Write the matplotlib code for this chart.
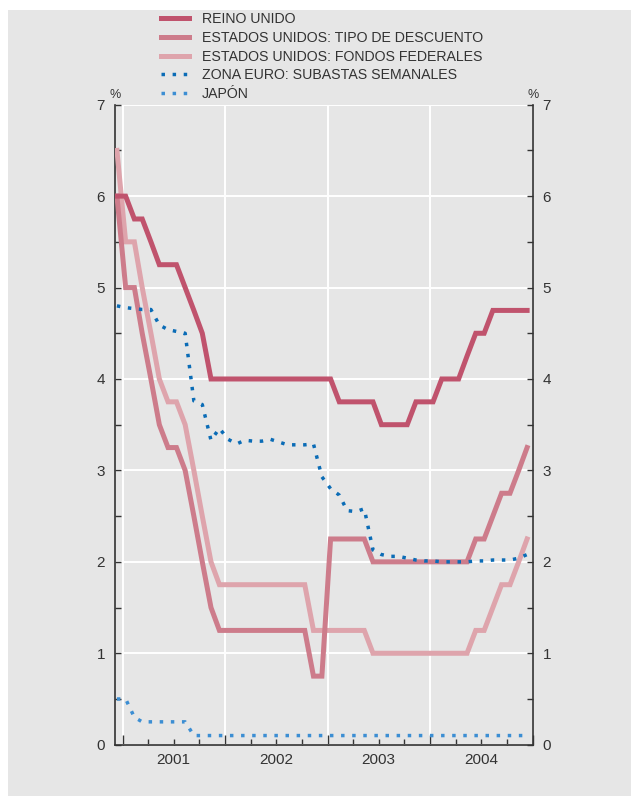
import matplotlib
matplotlib.use("Agg")
import matplotlib.pyplot as plt
import matplotlib.dates as mdates
from matplotlib.patches import Rectangle
import pandas as pd

plt.rcParams['font.family'] = ['Liberation Sans', 'DejaVu Sans']

# =============================================================================
# Datos: tipos de interés oficiales, datos mensuales dic-2000 a dic-2004 (%)
# =============================================================================

meses = pd.date_range("2000-12-01", "2004-12-01", freq="MS") + pd.Timedelta(days=10)

reino_unido = [
    6.00,
    6.00, 5.75, 5.75, 5.50, 5.25, 5.25, 5.25, 5.00, 4.75, 4.50, 4.00, 4.00,
    4.00, 4.00, 4.00, 4.00, 4.00, 4.00, 4.00, 4.00, 4.00, 4.00, 4.00, 4.00,
    4.00, 3.75, 3.75, 3.75, 3.75, 3.75, 3.50, 3.50, 3.50, 3.50, 3.75, 3.75,
    3.75, 4.00, 4.00, 4.00, 4.25, 4.50, 4.50, 4.75, 4.75, 4.75, 4.75, 4.75,
]

eeuu_descuento = [
    6.00,
    5.00, 5.00, 4.50, 4.00, 3.50, 3.25, 3.25, 3.00, 2.50, 2.00, 1.50, 1.25,
    1.25, 1.25, 1.25, 1.25, 1.25, 1.25, 1.25, 1.25, 1.25, 1.25, 0.75, 0.75,
    2.25, 2.25, 2.25, 2.25, 2.25, 2.00, 2.00, 2.00, 2.00, 2.00, 2.00, 2.00,
    2.00, 2.00, 2.00, 2.00, 2.00, 2.25, 2.25, 2.50, 2.75, 2.75, 3.00, 3.25,
]

eeuu_fondos = [
    6.50,
    5.50, 5.50, 5.00, 4.50, 4.00, 3.75, 3.75, 3.50, 3.00, 2.50, 2.00, 1.75,
    1.75, 1.75, 1.75, 1.75, 1.75, 1.75, 1.75, 1.75, 1.75, 1.75, 1.25, 1.25,
    1.25, 1.25, 1.25, 1.25, 1.25, 1.00, 1.00, 1.00, 1.00, 1.00, 1.00, 1.00,
    1.00, 1.00, 1.00, 1.00, 1.00, 1.25, 1.25, 1.50, 1.75, 1.75, 2.00, 2.25,
]

zona_euro = [
    4.80,
    4.78, 4.77, 4.76, 4.76, 4.59, 4.54, 4.52, 4.50, 3.76, 3.72, 3.33, 3.46,
    3.34, 3.29, 3.33, 3.32, 3.32, 3.34, 3.31, 3.28, 3.28, 3.28, 3.29, 2.93,
    2.80, 2.73, 2.56, 2.55, 2.58, 2.13, 2.08, 2.06, 2.06, 2.04, 2.02, 2.01,
    2.01, 2.00, 2.00, 2.00, 2.00, 2.01, 2.01, 2.02, 2.02, 2.02, 2.04, 2.08,
]

japon = [
    0.50,
    0.50, 0.30, 0.25, 0.25, 0.25, 0.25, 0.25, 0.25, 0.10, 0.10, 0.10, 0.10,
    0.10, 0.10, 0.10, 0.10, 0.10, 0.10, 0.10, 0.10, 0.10, 0.10, 0.10, 0.10,
    0.10, 0.10, 0.10, 0.10, 0.10, 0.10, 0.10, 0.10, 0.10, 0.10, 0.10, 0.10,
    0.10, 0.10, 0.10, 0.10, 0.10, 0.10, 0.10, 0.10, 0.10, 0.10, 0.10, 0.10,
]

anios = [2001, 2002, 2003, 2004]
y_ticks = [0, 1, 2, 3, 4, 5, 6, 7]

# =============================================================================
# Estilo
# =============================================================================

GRIS = '#e6e6e6'
TEXTO = '#333333'
C_UK = '#c0536d'
C_DESC = '#cd7c8b'
C_FED = '#dea4ac'
C_EURO = '#0b6cb6'
C_JAP = '#3c8ed3'
PUNTOS = (0, (1, 2.2))

fig = plt.figure(figsize=(6.31, 7.96), dpi=100)
fig.patch.set_facecolor('white')
fig.patches.append(Rectangle((8 / 631, 0), 1, 1 - 10 / 796, transform=fig.transFigure,
                             facecolor=GRIS, edgecolor='none', zorder=-10))

ax = fig.add_axes([114.7 / 631, 51.3 / 796, (533 - 114.7) / 631, (744.7 - 104.7) / 796])
ax.set_facecolor(GRIS)

# orden: fondos abajo, euro arriba
l_fed, = ax.plot(meses, eeuu_fondos, color=C_FED, lw=3.6, solid_joinstyle='miter', zorder=3)
l_desc, = ax.plot(meses, eeuu_descuento, color=C_DESC, lw=3.6, solid_joinstyle='miter', zorder=4)
l_uk, = ax.plot(meses, reino_unido, color=C_UK, lw=3.6, solid_joinstyle='miter', zorder=5)
l_jap, = ax.plot(meses, japon, color=C_JAP, lw=2.5, ls=PUNTOS, dash_capstyle='butt', zorder=6)
l_euro, = ax.plot(meses, zona_euro, color=C_EURO, lw=2.5, ls=PUNTOS, dash_capstyle='butt', zorder=7)

# ejes
ax.set_ylim(0, 7)
ax.set_xlim(pd.Timestamp("2000-12-03"), pd.Timestamp("2005-01-01"))

ax.set_yticks(y_ticks)
ax.set_yticks([v + 0.5 for v in y_ticks[:-1]], minor=True)
ax.xaxis.set_major_locator(mdates.YearLocator())
ax.xaxis.set_minor_locator(mdates.MonthLocator(bymonth=[1, 4, 7, 10]))
ax.xaxis.set_major_formatter(plt.NullFormatter())

ax.tick_params(axis='y', which='both', direction='in', left=True, right=True,
               labelleft=True, labelright=True, length=4, width=1, color=TEXTO,
               labelsize=11, labelcolor=TEXTO, pad=7)
ax.tick_params(axis='x', which='major', direction='in', length=7, width=1, color=TEXTO)
ax.tick_params(axis='x', which='minor', direction='in', length=4, width=1, color=TEXTO)

for s in ['left', 'right', 'bottom']:
    ax.spines[s].set_color(TEXTO)
    ax.spines[s].set_linewidth(1.2)
ax.spines['top'].set_visible(False)

ax.grid(True, which='major', color='white', lw=1.4, zorder=1)
ax.set_axisbelow(True)

for a in anios:
    ax.annotate(str(a), xy=(pd.Timestamp(f"{a}-07-01"), 0), xycoords=('data', 'axes fraction'),
                xytext=(0, -6), textcoords='offset points', ha='center', va='top',
                fontsize=11, color=TEXTO)

for xa in [0, 1]:
    ax.annotate('%', xy=(xa, 1), xycoords='axes fraction', xytext=(0, 2.5),
                textcoords='offset points', ha='center', va='bottom', fontsize=9, color=TEXTO)

fig.legend([l_uk, l_desc, l_fed, l_euro, l_jap],
           ['REINO UNIDO', 'ESTADOS UNIDOS: TIPO DE DESCUENTO', 'ESTADOS UNIDOS: FONDOS FEDERALES',
            'ZONA EURO: SUBASTAS SEMANALES', 'JAPÓN'],
           loc='upper left', bbox_to_anchor=(161 / 631, 1 - 12 / 796), frameon=False,
           fontsize=10.2, handlelength=1.95, handletextpad=0.95, labelspacing=0.34,
           borderpad=0, borderaxespad=0, labelcolor=TEXTO)

fig.savefig('out.png', dpi=100, facecolor=fig.get_facecolor())
